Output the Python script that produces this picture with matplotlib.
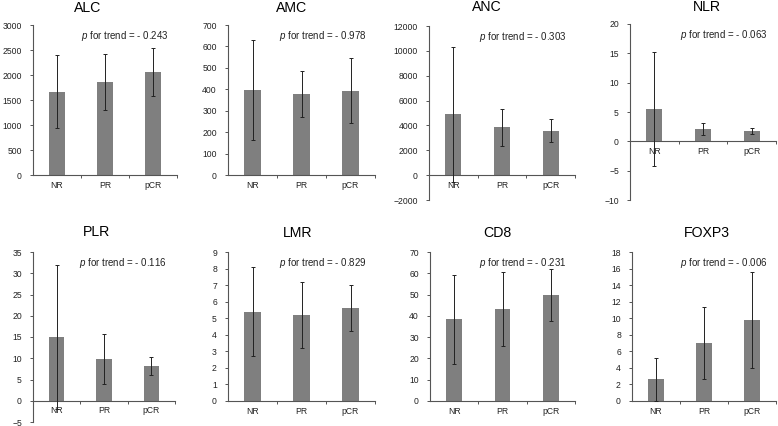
import matplotlib
matplotlib.use("Agg")
import matplotlib.pyplot as plt

plt.rcParams["font.family"] = ["Liberation Sans", "DejaVu Sans"]
plt.rcParams["mathtext.fontset"] = "custom"
plt.rcParams["mathtext.rm"] = "Liberation Sans"
plt.rcParams["mathtext.it"] = "Liberation Sans:italic"

# Data (mean and error)
groups = ["NR", "PR", "pCR"]
names = ["ALC", "AMC", "ANC", "NLR", "PLR", "LMR", "CD8", "FOXP3"]

alc_mean = [1670, 1860, 2060]
alc_err = [730, 560, 480]
amc_mean = [397, 380, 393]
amc_err = [233, 107, 152]
anc_mean = [4880, 3840, 3560]
anc_err = [5400, 1470, 930]
nlr_mean = [5.45, 2.17, 1.8]
nlr_err = [9.7, 1.03, 0.5]
plr_mean = [15.0, 9.8, 8.1]
plr_err = [17.0, 5.8, 2.1]
lmr_mean = [5.4, 5.2, 5.6]
lmr_err = [2.7, 2.0, 1.4]
cd8_mean = [38.3, 43.3, 49.8]
cd8_err = [20.9, 17.4, 12.1]
foxp3_mean = [2.6, 7.0, 9.75]
foxp3_err = [2.6, 4.3, 5.8]

p_trend = ["- 0.243", "- 0.978", "- 0.303", "- 0.063",
           "- 0.116", "- 0.829", "- 0.231", "- 0.006"]

y_min = [0, 0, -2000, -10, -5, 0, 0, 0]
y_max = [3000, 700, 12000, 20, 35, 9, 70, 18]
y_step = [500, 100, 2000, 5, 5, 1, 10, 2]

means = [alc_mean, amc_mean, anc_mean, nlr_mean, plr_mean, lmr_mean, cd8_mean, foxp3_mean]
errs = [alc_err, amc_err, anc_err, nlr_err, plr_err, lmr_err, cd8_err, foxp3_err]

W, H = 778, 426
fig = plt.figure(figsize=(W / 100, H / 100), dpi=100)

# plot boxes in pixels: left, top, right, bottom
boxes = [(33, 25, 177, 175), (228, 25, 375, 175), (429, 26, 575, 200), (630, 24, 776, 200),
         (33, 252, 175, 422), (228, 252, 375, 401), (430, 252, 575, 401), (632, 252, 776, 401)]
title_pos = [(88, 8), (292, 8), (487, 7), (707, 7), (97, 232), (298, 233), (497, 233), (707, 233)]

for i in range(8):
    l, t, r, b = boxes[i]
    ax = fig.add_axes([l / W, 1 - b / H, (r - l) / W, (b - t) / H])
    x = range(3)
    ax.bar(x, means[i], width=0.33, color="#7f7f7f", zorder=2)
    ax.errorbar(x, means[i], yerr=errs[i], fmt="none", ecolor="#222222",
                elinewidth=0.7, capsize=1.6, capthick=0.7, zorder=3)
    ax.set_xlim(-0.5, 2.5)
    ax.set_ylim(y_min[i], y_max[i])
    ticks = list(range(y_min[i], y_max[i] + 1, y_step[i]))
    ax.set_yticks(ticks)
    ax.set_xticks(list(x))
    ax.set_xticklabels(groups)
    ax.set_xticks([0.5, 1.5, 2.5], minor=True)
    for s in ["top", "right"]:
        ax.spines[s].set_visible(False)
    for s in ["left", "bottom"]:
        ax.spines[s].set_color("#555555")
        ax.spines[s].set_linewidth(0.8)
    ax.spines["bottom"].set_position(("data", 0))
    ax.tick_params(axis="y", length=2.5, width=0.7, pad=5.5, labelsize=6.2,
                   color="#555555", labelcolor="#222222")
    ax.tick_params(axis="x", which="major", length=0, pad=4, labelsize=6.2,
                   labelcolor="#222222")
    ax.tick_params(axis="x", which="minor", length=2.5, width=0.7, color="#555555")
    ax.set_facecolor("none")

    fig.text(title_pos[i][0] / W, 1 - title_pos[i][1] / H, names[i],
             ha="center", va="center", fontsize=10.2)
    fig.text((r - 8) / W, 1 - (t + 11) / H, r"$p$ for trend = " + p_trend[i],
             ha="right", va="center", fontsize=7.0, color="#222222")

fig.savefig("out.png", dpi=100)
